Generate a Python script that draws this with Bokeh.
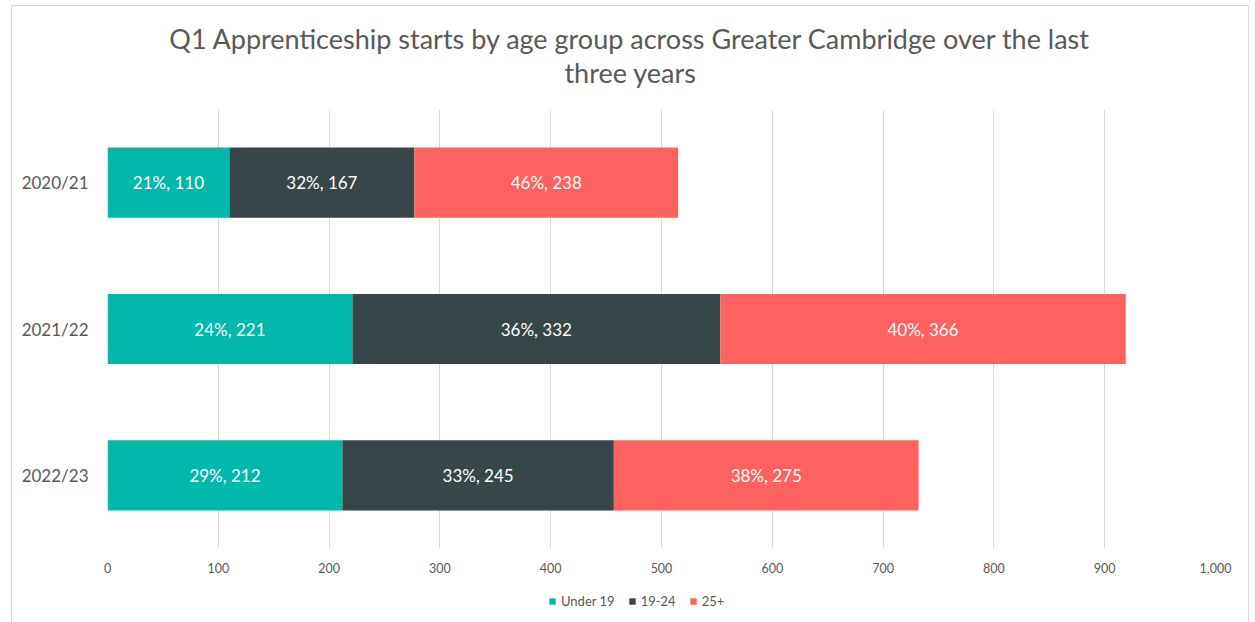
import numpy as np
from bokeh.plotting import figure
from bokeh.layouts import column
from bokeh.models import (ColumnDataSource, FactorRange, Range1d, Legend, LegendItem,
                          SingleIntervalTicker, NumeralTickFormatter)
from bokeh.core.properties import value
from bokeh.embed import file_html
from bokeh.resources import INLINE

# ---- data ----
years = ["2020/21", "2021/22", "2022/23"]
under19 = [110, 221, 212]
age19_24 = [167, 332, 245]
age25plus = [238, 366, 275]
pct_under19 = [21, 24, 29]
pct_19_24 = [32, 36, 33]
pct_25plus = [46, 40, 38]
series = ["Under 19", "19-24", "25+"]
colors = ["#01B8AA", "#374649", "#FD625E"]
title_lines = ["Q1 Apprenticeship starts by age group across Greater Cambridge over the last",
               "three years"]

FONT = "Lato"
GREY = "#595959"

src = ColumnDataSource(dict(year=years, u19=under19, a1924=age19_24, a25=age25plus))

p = figure(width=1236, height=489, output_backend="svg", toolbar_location=None,
           y_range=FactorRange(factors=list(reversed(years))),
           x_range=Range1d(0, 1000),
           min_border_left=95, min_border_right=33, min_border_top=13, min_border_bottom=37)
p.y_range.range_padding = 0
p.outline_line_color = None
p.background_fill_color = "white"
p.border_fill_color = "white"

rs = p.hbar_stack(["u19", "a1924", "a25"], y="year", height=0.48, color=colors,
                  source=src, line_color=None)

# data labels
vals = np.array([under19, age19_24, age25plus], dtype=float)
pcts = [pct_under19, pct_19_24, pct_25plus]
cum = np.cumsum(vals, axis=0)
lx, ly, lt = [], [], []
for s in range(3):
    for i, y in enumerate(years):
        lx.append(cum[s, i] - vals[s, i] / 2)
        ly.append(y)
        lt.append(f"{pcts[s][i]}%, {int(vals[s, i])}")
p.text(x=lx, y=ly, text=lt, text_align="center", text_baseline="middle",
       text_color="white", text_font_size="17px", text_font=value(FONT))

# axes
p.xaxis.ticker = SingleIntervalTicker(interval=100)
p.xaxis.formatter = NumeralTickFormatter(format="0,0")
p.xaxis.axis_line_color = None
p.xaxis.major_tick_line_color = None
p.xaxis.minor_tick_line_color = None
p.xaxis.major_label_standoff = 8
p.xaxis.major_label_text_font = FONT
p.xaxis.major_label_text_font_size = "12.5px"
p.xaxis.major_label_text_color = GREY

p.yaxis.axis_line_color = None
p.yaxis.major_tick_line_color = None
p.yaxis.minor_tick_line_color = None
p.yaxis.major_label_standoff = 13
p.yaxis.major_label_text_font = FONT
p.yaxis.major_label_text_font_size = "17px"
p.yaxis.major_label_text_color = GREY

p.xgrid.ticker = SingleIntervalTicker(interval=100)
p.xgrid.grid_line_color = "#d9d9d9"
p.ygrid.grid_line_color = None

# title strip (shares the chart's x scale)
TH = 90
tf = figure(width=1236, height=TH, output_backend="svg", toolbar_location=None,
            x_range=p.x_range, y_range=Range1d(0, TH), min_border=0,
            x_axis_location=None, y_axis_location=None)
tf.outline_line_color = None
tf.grid.grid_line_color = None
tf.text(x=[472, 472], y=[58, 24], text=title_lines, text_align="center",
        text_baseline="middle", text_color=GREY, text_font_size="27px",
        text_font=value(FONT))

# legend strip
lf = figure(width=1236, height=38, output_backend="svg", toolbar_location=None,
            x_range=Range1d(0, 1), y_range=Range1d(0, 1), min_border=0,
            x_axis_location=None, y_axis_location=None)
lf.outline_line_color = None
lf.grid.grid_line_color = None
# legend proxies: one bar each, kept outside the strip's visible range
lr = [lf.hbar(y=[-5], left=[0], right=[1], height=0.5, color=c, line_color=None)
      for c in colors]
legend = Legend(items=[LegendItem(label=s, renderers=[r]) for s, r in zip(series, lr)],
                orientation="horizontal", location=(441, 14))
legend.border_line_color = None
legend.background_fill_alpha = 0
legend.label_text_font = FONT
legend.label_text_font_size = "13px"
legend.label_text_color = GREY
legend.glyph_width = 8
legend.glyph_height = 8
legend.label_standoff = 5
legend.spacing = 13
legend.padding = 0
legend.margin = 0
lf.add_layout(legend)

layout = column(tf, p, lf, spacing=0, margin=(5, 0, 0, 11),
                styles={"border": "1px solid #d9d9d9"})

open("out.html", "w").write(file_html(layout, INLINE))
